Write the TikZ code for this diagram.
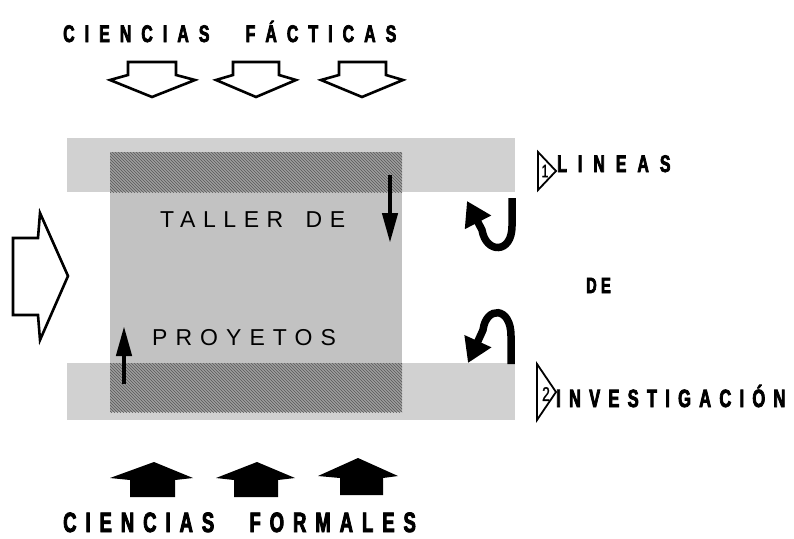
\documentclass[tikz,border=0pt]{standalone}
\usepackage{fontspec}
\setmainfont{Liberation Sans}
\newfontfamily\factfont[FakeStretch=0.66, FakeBold=3, LetterSpace=42, WordSpace=2.5]{Liberation Sans Bold}
\newfontfamily\formfont[FakeStretch=0.66, FakeBold=3, LetterSpace=32, WordSpace=2.5]{Liberation Sans Bold}
\newfontfamily\linefont[FakeStretch=0.66, FakeBold=3, LetterSpace=46]{Liberation Sans Bold}
\newfontfamily\invfont[FakeStretch=0.66, FakeBold=3, LetterSpace=33]{Liberation Sans Bold}
\newfontfamily\defont[FakeStretch=0.66, FakeBold=3, LetterSpace=20]{Liberation Sans Bold}
\newfontfamily\digitfont[FakeStretch=0.7, FakeBold=1]{Liberation Sans}
\newfontfamily\tallerfont[LetterSpace=33, WordSpace=1.6]{Liberation Sans}
\newfontfamily\proyfont[LetterSpace=35]{Liberation Sans}
\usetikzlibrary{arrows.meta}
\usetikzlibrary{patterns}
\definecolor{bandgray}{gray}{0.82}
\definecolor{boxgray}{gray}{0.76}
\definecolor{hatchgray}{gray}{0.62}
\tikzset{
  band/.style= {fill=bandgray},
  block/.style= {fill=boxgray},
  hatched/.style= {fill=hatchgray, postaction={pattern=north west lines, pattern color=black!65}},
  openarrow/.style= {draw, line width=2.6pt, fill=white},
  fullarrow/.style= {fill=black},
  pointer/.style= {line width=4.5pt, -{Triangle[length=30pt,width=15pt]}},
  hook/.style= {line width=7.5pt, -{Triangle[length=24pt,width=28pt]}},
  marker/.style= {draw, line width=1.8pt, line join=miter},
  label/.style= {anchor=base west, inner sep=0},
}

\begin{document}
\begin{tikzpicture}[x=1pt, y=-1pt]
  \useasboundingbox (0,0) rectangle (794,538);

  \fill[band] (67,138) rectangle (515,192);
  \fill[band] (67,363) rectangle (515,420);
  \fill[block] (110,152) rectangle (402,412);
  \fill[hatched] (110,152) rectangle (402,192);
  \fill[hatched] (110,363) rectangle (402,412);

  \draw[openarrow] (128,62) -- (176,62) -- (176,75) -- (195,80) -- (152,97) -- (110,80) -- (128,75) -- cycle;
  \draw[openarrow] (233,62) -- (279,62) -- (279,75) -- (296,80) -- (256,97) -- (216,80) -- (233,75) -- cycle;
  \draw[openarrow] (339,62) -- (386,62) -- (386,75) -- (403,80) -- (362,97) -- (321,80) -- (339,75) -- cycle;

  \fill[fullarrow] (130,497) -- (130,480) -- (110,478) -- (154,462) -- (193,478) -- (175,480) -- (175,497) -- cycle;
  \fill[fullarrow] (234,497) -- (234,480) -- (216,478) -- (257,462) -- (295,478) -- (278,480) -- (278,497) -- cycle;
  \fill[fullarrow] (340,495) -- (340,478) -- (318,476) -- (358,458) -- (398,476) -- (383,478) -- (383,495) -- cycle;

  \draw[openarrow] (13,238) -- (38,238) -- (40,213) -- (68,276) -- (40,340) -- (38,315) -- (13,315) -- cycle;

  \node[label, font=\factfont\fontsize{24}{24}\selectfont] (fact) at (63,42) {CIENCIAS FÁCTICAS};
  \node[label, font=\formfont\fontsize{28}{28}\selectfont] (form) at (63,532) {CIENCIAS FORMALES};
  \node[label, font=\tallerfont\fontsize{23}{23}\selectfont] (taller) at (160,227) {TALLER DE};
  \node[label, font=\proyfont\fontsize{23}{23}\selectfont] (proy) at (152,345) {PROYETOS};
  \node[label, font=\linefont\fontsize{24}{24}\selectfont] (lin) at (557,172) {LINEAS};
  \node[label, font=\defont\fontsize{22}{22}\selectfont] (de) at (586,293) {DE};
  \node[label, font=\invfont\fontsize{25}{25}\selectfont] (inv) at (556,407) {INVESTIGACIÓN};

  \draw[marker] (538,152) -- (556,171) -- (538,190) -- cycle;
  \node[font=\digitfont\fontsize{18}{18}\selectfont, inner sep=0] (one) at (545,171) {1};
  \draw[marker] (537,364) -- (556,392) -- (537,420) -- cycle;
  \node[font=\digitfont\fontsize{20}{20}\selectfont, inner sep=0] (two) at (546,394) {2};

  \coordinate (down-s) at (390,175);
  \coordinate (down-e) at (390,243);
  \coordinate (up-s) at (124,384);
  \coordinate (up-e) at (124,326);
  \draw[pointer] (down-s) -- (down-e);
  \draw[pointer] (up-s) -- (up-e);

  \coordinate (hook1-s) at (512,198);
  \coordinate (hook1-e) at (467,201);
  \coordinate (hook2-s) at (511,364);
  \coordinate (hook2-e) at (468,363);
  \draw[hook] (hook1-s) -- (512,226) .. controls (512,254) and (486,254) .. (482,230) -- (hook1-e);
  \draw[hook] (hook2-s) -- (511,336) .. controls (511,306) and (486,306) .. (483,330) -- (hook2-e);
\end{tikzpicture}
\end{document}
